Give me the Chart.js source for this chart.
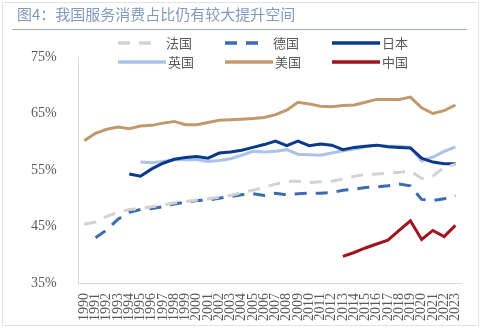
<!DOCTYPE html>
<html>
<head>
<meta charset="utf-8">
<script src="https://cdn.jsdelivr.net/npm/chart.js@4.4.1/dist/chart.umd.min.js"></script>
<style>
  body { margin: 0; background: #fff; }
  #wrap { position: relative; width: 482px; height: 329px; }
  #frame { position: absolute; left: 2px; top: 2px; width: 475px; height: 322px; border: 1px solid #e3e3e3; pointer-events: none; }
</style>
</head>
<body>
<div id="wrap">
  <canvas id="chart1" width="482" height="329"></canvas>
  <div id="frame"></div>
</div>
<script>
// 年份
var years = ['1990', '1991', '1992', '1993', '1994', '1995', '1996', '1997', '1998', '1999',
  '2000', '2001', '2002', '2003', '2004', '2005', '2006', '2007', '2008', '2009',
  '2010', '2011', '2012', '2013', '2014', '2015', '2016', '2017', '2018', '2019',
  '2020', '2021', '2022', '2023'];

// 服务消费占比（%）
var france = [45.4, 45.8, 46.8, 47.5, 48.0, 48.2, 48.5, 48.8, 49.2, 49.4,
  49.7, 49.9, 50.2, 50.5, 51.0, 51.4, 52.0, 52.5, 53.0, 53.0,
  52.8, 52.9, 53.0, 53.4, 53.9, 54.2, 54.3, 54.4, 54.6, 54.8,
  53.5, 53.9, 55.5, 56.0];
var germany = [null, 43.0, 44.4, 46.3, 47.5, 48.0, 48.2, 48.5, 49.0, 49.3,
  49.6, 49.7, 50.0, 50.3, 50.6, 50.8, 50.5, 50.9, 50.6, 50.8,
  50.9, 50.9, 51.0, 51.4, 51.6, 51.9, 52.0, 52.2, 52.5, 52.2,
  49.8, 49.6, 49.9, 50.5];
var japan = [null, null, null, null, 54.3, 53.9, 55.2, 56.2, 56.9, 57.2,
  57.4, 57.1, 58.0, 58.2, 58.5, 59.0, 59.5, 60.1, 59.3, 60.1,
  59.3, 59.6, 59.4, 58.6, 59.0, 59.2, 59.4, 59.1, 59.0, 58.9,
  57.1, 56.4, 56.1, 56.1];
var uk = [null, null, null, null, null, 56.4, 56.3, 56.5, 56.8, 56.8,
  56.8, 56.5, 56.7, 57.0, 57.6, 58.3, 58.2, 58.3, 58.6, 57.8,
  57.7, 57.6, 58.0, 58.4, 58.7, 59.1, 59.4, 59.2, 59.2, 59.0,
  56.6, 57.3, 58.3, 59.1];
var usa = [60.2, 61.5, 62.2, 62.6, 62.3, 62.8, 62.9, 63.3, 63.6, 63.0,
  63.0, 63.4, 63.8, 63.9, 64.0, 64.1, 64.3, 64.8, 65.6, 67.0,
  66.7, 66.3, 66.2, 66.4, 66.5, 67.0, 67.5, 67.5, 67.5, 67.9,
  66.0, 65.0, 65.5, 66.5];
var china = [null, null, null, null, null, null, null, null, null, null,
  null, null, null, null, null, null, null, null, null, null,
  null, null, null, 39.7, 40.4, 41.2, 41.9, 42.6, 44.3, 46.0,
  42.7, 44.3, 43.2, 45.2];

var yTicks = [35, 45, 55, 65, 75];

var serif = "'Liberation Serif', 'Times New Roman', 'DejaVu Serif', serif";

// 图例（自己画，位置跟原图一样压在绘图区上方）
var legendSlots = [[118, 43], [225, 43], [332, 43], [118, 62], [225, 62], [332, 62]];
var legendPlugin = {
  id: 'ownLegend',
  afterDraw: function (chart) {
    var c = chart.ctx;
    c.save();
    // 标题下面的横线
    c.strokeStyle = '#9fb1c9';
    c.lineWidth = 1;
    c.beginPath();
    c.moveTo(12, 29.5);
    c.lineTo(467, 29.5);
    c.stroke();

    c.font = '13px "Noto Sans CJK SC"';
    c.textBaseline = 'middle';
    c.fillStyle = '#595959';
    chart.data.datasets.forEach(function (ds, i) {
      var p = legendSlots[i];
      c.strokeStyle = ds.borderColor;
      c.lineWidth = 3.5;
      c.setLineDash(ds.borderDash || []);
      c.beginPath();
      c.moveTo(p[0], p[1]);
      c.lineTo(p[0] + (ds.borderDash ? 38 : 48), p[1]);
      c.stroke();
      c.setLineDash([]);
      c.fillText(ds.label, p[0] + (ds.borderDash ? 48 : 50), p[1]);
    });
    c.restore();
  }
};

function line(label, data, color, dash) {
  var ds = {
    label: label,
    data: data,
    borderColor: color,
    backgroundColor: color,
    borderWidth: 3,
    pointRadius: 0,
    fill: false,
    tension: 0
  };
  if (dash) ds.borderDash = dash;
  return ds;
}

var ctx1 = document.getElementById('chart1').getContext('2d');
var chart1 = new Chart(ctx1, {
  type: 'line',
  data: {
    labels: years,
    datasets: [
      line('法国', france, '#d2d2d2', [12, 9]),
      line('德国', germany, '#3b6cb2', [12, 9]),
      line('日本', japan, '#0b3a8c'),
      line('英国', uk, '#abc3e7'),
      line('美国', usa, '#c09a6c'),
      line('中国', china, '#a0141e')
    ]
  },
  plugins: [legendPlugin],
  options: {
    responsive: false,
    animation: false,
    layout: { padding: { left: 17, right: 21, top: 0, bottom: 6 } },
    plugins: {
      legend: { display: false },
      tooltip: { enabled: false },
      title: {
        display: true,
        text: '图4：我国服务消费占比仍有较大提升空间',
        align: 'start',
        color: '#8299bf',
        font: { family: '"Noto Sans CJK SC"', size: 15, weight: 'normal' },
        padding: { top: 5, bottom: 34 }
      }
    },
    scales: {
      x: {
        offset: true,
        grid: { display: false },
        border: { display: true, color: '#d9d9d9', width: 1 },
        ticks: {
          autoSkip: false,
          minRotation: 90,
          maxRotation: 90,
          padding: 2,
          color: '#595959',
          font: { family: serif, size: 14 }
        }
      },
      y: {
        min: 35,
        max: 75,
        afterBuildTicks: function (axis) {
          axis.ticks = yTicks.map(function (v) { return { value: v }; });
        },
        grid: { display: false },
        border: { display: true, color: '#d9d9d9', width: 1 },
        ticks: {
          padding: 14,
          color: '#595959',
          font: { family: serif, size: 14 },
          callback: function (v) { return v + '%'; }
        }
      }
    }
  }
});
</script>
</body>
</html>
